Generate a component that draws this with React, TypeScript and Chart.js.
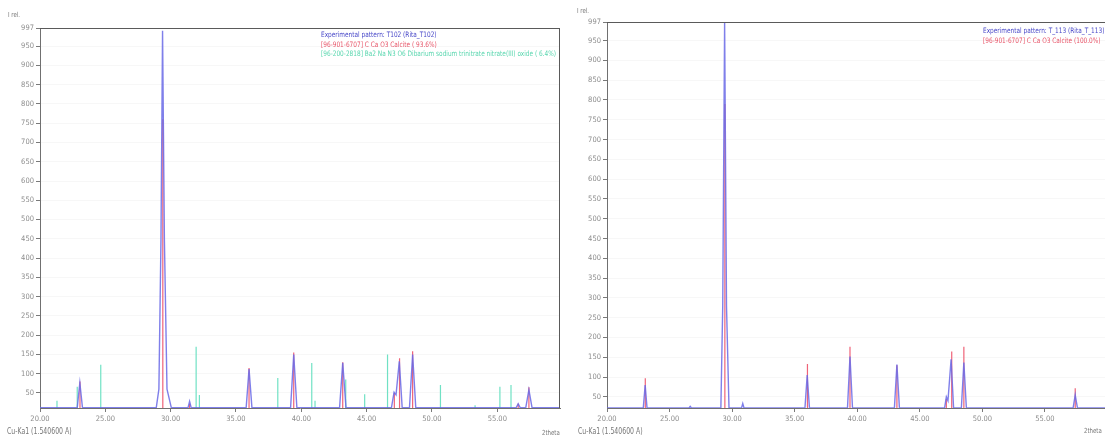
import React, { useEffect, useRef } from "react";
import { Chart, registerables } from "chart.js";
Chart.register(...registerables);

const FONT = '"Liberation Sans Narrow", "DejaVu Sans Condensed", "Liberation Sans", sans-serif';

const X_TICKS = [20, 25, 30, 35, 40, 45, 50, 55];
const Y_TICKS = [50, 100, 150, 200, 250, 300, 350, 400, 450, 500, 550, 600, 650, 700, 750, 800, 850, 900, 950, 997];
const X_MIN = 20;
const X_MAX = 59.8;
const Y_MAX = 997;

// ---- T102 (left) ----
const T102_EXP_X = [20, 22.85, 23.05, 23.25, 28.9, 29.1, 29.26, 29.38, 29.52, 29.72, 30.05, 31.33, 31.45, 31.57, 35.78, 36.0, 36.22, 39.18, 39.42, 39.66, 42.93, 43.17, 43.42, 46.9, 47.1, 47.25, 47.5, 47.72, 48.28, 48.52, 48.76, 56.45, 56.6, 56.75, 57.18, 57.42, 57.66, 59.8];
const T102_EXP_Y = [12, 12, 76, 12, 12, 60, 450, 990, 450, 60, 12, 12, 28, 12, 12, 112, 12, 12, 150, 12, 12, 128, 12, 12, 52, 45, 132, 12, 12, 150, 12, 12, 22, 12, 12, 58, 12, 12];
const T102_CALCITE_POS = [23.06, 29.4, 31.45, 36.0, 39.42, 43.17, 47.12, 47.52, 48.52, 56.6, 57.42];
const T102_CALCITE_INT = [80, 760, 22, 115, 155, 130, 50, 140, 158, 22, 65];
const T102_NITRATE_POS = [21.3, 22.85, 24.65, 31.95, 32.2, 38.2, 40.8, 41.05, 43.4, 44.85, 46.6, 50.65, 53.3, 55.2, 56.05];
const T102_NITRATE_INT = [30, 66, 123, 170, 45, 89, 128, 30, 85, 47, 150, 71, 18, 66, 71];
const T102_Y_MIN = 11;

// ---- T113 (right) ----
const T113_EXP_X = [20, 22.9, 23.05, 23.2, 26.55, 26.65, 26.75, 29.1, 29.25, 29.4, 29.55, 29.75, 30.75, 30.85, 30.95, 35.82, 36.0, 36.18, 39.22, 39.42, 39.62, 42.97, 43.17, 43.37, 46.98, 47.12, 47.25, 47.5, 47.7, 48.32, 48.52, 48.72, 57.25, 57.42, 57.6, 59.8];
const T113_EXP_Y = [22, 22, 80, 22, 22, 26, 22, 22, 280, 997, 280, 22, 22, 33, 22, 22, 105, 22, 22, 152, 22, 22, 132, 22, 22, 50, 40, 145, 22, 22, 137, 22, 22, 55, 22, 22];
const T113_CALCITE_POS = [23.06, 29.42, 36.02, 39.42, 43.17, 47.12, 47.55, 48.52, 57.42];
const T113_CALCITE_INT = [97, 790, 133, 177, 130, 45, 165, 177, 72];
const T113_Y_MIN = 22;

const BLUE = "rgba(104,104,230,0.85)";
const RED = "rgba(236,72,96,0.85)";
const CYAN = "rgba(96,222,190,0.9)";

function profile(xs: number[], ys: number[]) {
  return xs.map((x, i) => ({ x, y: ys[i] }));
}
function sticks(pos: number[], ints: number[], base: number) {
  const out: any[] = [];
  pos.forEach((p, i) => {
    out.push({ x: p, y: base });
    out.push({ x: p, y: ints[i] });
    out.push({ x: p, y: null });
  });
  return out;
}

type Props = {
  left: number;
  width: number;
  top: number;
  axisWidth: number;
  yMin: number;
  drawRight: boolean;
  datasets: any[];
};

function XrdChart({ left, width, top, axisWidth, yMin, drawRight, datasets }: Props) {
  const ref = useRef<HTMLCanvasElement>(null);
  useEffect(() => {
    const frame = {
      id: "frame",
      afterDraw(chart: any) {
        const { ctx, chartArea: a } = chart;
        ctx.save();
        ctx.strokeStyle = "#5a5a5a";
        ctx.lineWidth = 1;
        ctx.beginPath();
        ctx.moveTo(a.left, Math.round(a.top) + 0.5);
        ctx.lineTo(a.right, Math.round(a.top) + 0.5);
        if (drawRight) {
          ctx.moveTo(Math.round(a.right) - 0.5, a.top);
          ctx.lineTo(Math.round(a.right) - 0.5, a.bottom);
        }
        ctx.stroke();
        ctx.restore();
      },
    };
    const chart = new Chart(ref.current!, {
      type: "line",
      data: { datasets },
      plugins: [frame],
      options: {
        animation: false,
        responsive: false,
        maintainAspectRatio: false,
        layout: { padding: { left: 0, top, right: 5, bottom: 0 } },
        plugins: { legend: { display: false }, tooltip: { enabled: false }, title: { display: false } },
        elements: { point: { radius: 0 }, line: { tension: 0 } },
        scales: {
          x: {
            type: "linear",
            min: X_MIN,
            max: X_MAX,
            afterBuildTicks: (s: any) => {
              s.ticks = X_TICKS.map((v) => ({ value: v }));
            },
            afterFit: (s: any) => {
              s.height = 33;
            },
            ticks: {
              color: "#8c8c8c",
              font: { family: FONT, size: 7.5 },
              padding: 3,
              maxRotation: 0,
              autoSkip: false,
              callback: (v: any) => Number(v).toFixed(2),
            },
            grid: { drawOnChartArea: false, tickLength: 4, tickColor: "#7a7a7a", color: "#7a7a7a" },
            border: { display: true, color: "#707070", width: 1 },
          },
          y: {
            type: "linear",
            min: yMin,
            max: Y_MAX,
            afterBuildTicks: (s: any) => {
              s.ticks = Y_TICKS.map((v) => ({ value: v }));
            },
            afterFit: (s: any) => {
              s.width = axisWidth;
            },
            ticks: {
              color: "#8c8c8c",
              font: { family: FONT, size: 7.5 },
              padding: 2,
              autoSkip: false,
            },
            grid: { drawOnChartArea: true, tickLength: 4, tickColor: "#7a7a7a", color: "rgba(0,0,0,0.03)" },
            border: { display: true, color: "#707070", width: 1 },
          },
        },
      } as any,
    });
    return () => chart.destroy();
  }, []);
  return (
    <canvas
      ref={ref}
      width={width}
      height={441}
      style={{ position: "absolute", left, top: 0, width, height: 441 }}
    />
  );
}

const txt = (extra: any): any => ({
  position: "absolute",
  fontFamily: FONT,
  whiteSpace: "nowrap",
  lineHeight: 1,
  transform: "scaleX(0.86)",
  transformOrigin: "0 0",
  ...extra,
});

export default function App() {
  const leftSets = [
    { data: profile(T102_EXP_X, T102_EXP_Y), borderColor: BLUE, borderWidth: 1.4, spanGaps: false },
    { data: sticks(T102_CALCITE_POS, T102_CALCITE_INT, T102_Y_MIN), borderColor: RED, borderWidth: 1.2, spanGaps: false },
    { data: sticks(T102_NITRATE_POS, T102_NITRATE_INT, T102_Y_MIN), borderColor: CYAN, borderWidth: 1.2, spanGaps: false },
  ];
  const rightSets = [
    { data: profile(T113_EXP_X, T113_EXP_Y), borderColor: BLUE, borderWidth: 1.4, spanGaps: false },
    { data: sticks(T113_CALCITE_POS, T113_CALCITE_INT, T113_Y_MIN), borderColor: RED, borderWidth: 1.2, spanGaps: false },
  ];
  return (
    <div style={{ position: "fixed", left: 0, top: 0, width: 1105, height: 441, overflow: "hidden", background: "#fff" }}>
      <XrdChart left={0} width={565} top={28} axisWidth={40} yMin={T102_Y_MIN} drawRight={true} datasets={leftSets} />
      <XrdChart left={565} width={545} top={22} axisWidth={42} yMin={T113_Y_MIN} drawRight={false} datasets={rightSets} />

      <div style={txt({ left: 8, top: 12, fontSize: 7, color: "#777" })}>I rel.</div>
      <div style={txt({ left: 7, top: 428, fontSize: 8, color: "#777" })}>Cu-Ka1 (1.540600 A)</div>
      <div style={txt({ left: 542, top: 430, fontSize: 7, color: "#777" })}>2theta</div>
      <div style={txt({ left: 321, top: 31, fontSize: 7.5, color: "#4848c8" })}>Experimental pattern: T102 (Rita_T102)</div>
      <div style={txt({ left: 321, top: 41, fontSize: 7.5, color: "#e85468" })}>[96-901-6707] C Ca O3  Calcite ( 93.6%)</div>
      <div style={txt({ left: 321, top: 50, fontSize: 7.5, color: "#58d6ae" })}>[96-200-2818] Ba2 Na N3 O6 Dibarium sodium trinitrate nitrate(III) oxide ( 6.4%)</div>

      <div style={txt({ left: 577, top: 8, fontSize: 7, color: "#777" })}>I rel.</div>
      <div style={txt({ left: 578, top: 428, fontSize: 8, color: "#777" })}>Cu-Ka1 (1.540600 A)</div>
      <div style={txt({ left: 1084, top: 428, fontSize: 7, color: "#777" })}>2theta</div>
      <div style={txt({ left: 983, top: 27, fontSize: 7.5, color: "#4848c8" })}>Experimental pattern: T_113 (Rita_T_113)</div>
      <div style={txt({ left: 983, top: 37, fontSize: 7.5, color: "#e85468" })}>[96-901-6707] C Ca O3  Calcite (100.0%)</div>
    </div>
  );
}
